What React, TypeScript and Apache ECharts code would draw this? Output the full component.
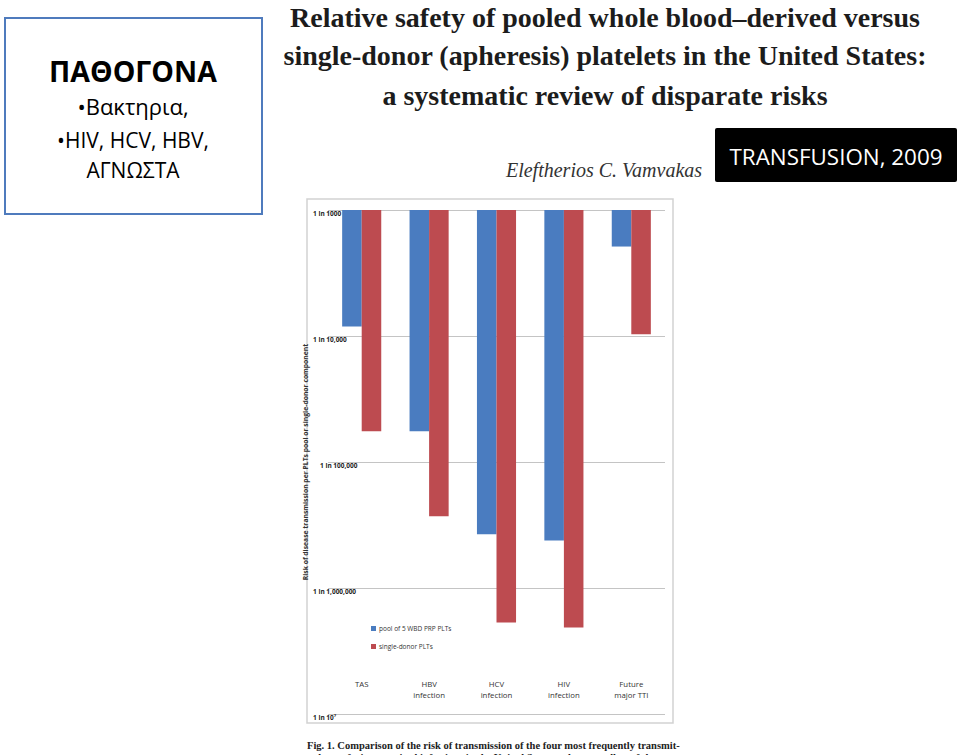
import React, { useEffect, useRef } from 'react';
import * as echarts from 'echarts';

const categories = ['TAS', 'HBV\ninfection', 'HCV\ninfection', 'HIV\ninfection', 'Future\nmajor TTI'];
const seriesNames = ['pool of 5 WBD PRP PLTs', 'single-donor PLTs'];
// risk expressed as "1 in N" (N values)
const pooledRisk = [8400, 57000, 375000, 420000, 1950];
const singleDonorRisk = [57000, 270000, 1880000, 2060000, 9700];
const yTickValues = [1000, 10000, 100000, 1000000, 10000000];
const yTickLabels = ['1 in 1000', '1 in 10,000', '1 in 100,000', '1 in 1,000,000', '1 in 10\u2077'];

const titleLines = [
  'Relative safety of pooled whole blood\u2013derived versus',
  'single-donor (apheresis) platelets in the United States:',
  'a systematic review of disparate risks',
];
const author = 'Eleftherios C. Vamvakas';
const journal = 'TRANSFUSION, 2009';
const boxHeading = '\u03a0\u0391\u0398\u039f\u0393\u039f\u039d\u0391';
const boxLines = ['\u2022\u0392\u03b1\u03ba\u03c4\u03b7\u03c1\u03b9\u03b1,', '\u2022HIV, HCV, HBV,', '\u0391\u0393\u039d\u03a9\u03a3\u03a4\u0391'];
const yAxisTitle = 'Risk of disease transmission per PLTs pool or single-donor component';
const captionLines = [
  'Fig. 1. Comparison of the risk of transmission of the four most frequently transmit-',
  'ted transfusion-acquired infections in the United States today, as well as of the next',
];

const BLUE = '#4a7cc0';
const RED = '#bd4b50';

export default function App() {
  const ref = useRef<HTMLDivElement>(null);
  useEffect(() => {
    if (!ref.current) return;
    const chart = echarts.init(ref.current, undefined, { renderer: 'svg' });
    const serif = '"Liberation Serif", "DejaVu Serif", serif';
    const sans = '"Open Sans", "Noto Sans", sans-serif';
    const option: any = {
      animation: false,
      backgroundColor: '#ffffff',
      grid: { left: 328, top: 210, width: 337, height: 504, containLabel: false },
      legend: {
        orient: 'vertical',
        left: 366,
        top: 620,
        itemWidth: 5,
        itemHeight: 5,
        itemGap: 11,
        icon: 'rect',
        data: seriesNames,
        textStyle: { fontSize: 6.5, color: '#333', fontFamily: sans, padding: [0, 0, 0, -2] },
      },
      xAxis: {
        type: 'category',
        data: categories,
        position: 'bottom',
        axisLine: { show: false },
        axisTick: { show: false },
        axisLabel: {
          margin: -36,
          fontSize: 7.8,
          color: '#333',
          fontFamily: sans,
          lineHeight: 11,
          verticalAlign: 'top',
          interval: 0,
        },
      },
      yAxis: {
        type: 'log',
        logBase: 10,
        min: 1000,
        max: 10000000,
        inverse: true,
        name: yAxisTitle,
        nameLocation: 'middle',
        nameGap: 13,
        nameTextStyle: { fontSize: 6.8, color: '#333', fontFamily: sans, fontWeight: 'bold' },
        axisLine: { show: false },
        axisTick: { show: false },
        splitLine: { show: true, lineStyle: { color: '#c4c4c4', width: 1.2 } },
        axisLabel: {
          margin: 15,
          align: 'left',
          verticalAlign: 'top',
          fontSize: 6.5,
          color: '#222',
          fontFamily: sans,
          fontWeight: 'bold',
          formatter: (v: number) => {
            const i = yTickValues.findIndex((t) => Math.abs(Math.log10(t) - Math.log10(v)) < 0.01);
            if (i < 0) return '';
            return i === 2 ? '{p|' + yTickLabels[i] + '}' : yTickLabels[i];
          },
          rich: { p: { padding: [0, 0, 0, 7], fontSize: 6.5, fontWeight: 'bold', color: '#222', fontFamily: sans } },
        },
      },
      series: [
        {
          name: seriesNames[0],
          type: 'bar',
          data: pooledRisk,
          itemStyle: { color: BLUE },
          barGap: '0%',
          barCategoryGap: '42%',
          clip: true,
        },
        {
          name: seriesNames[1],
          type: 'bar',
          data: singleDonorRisk,
          itemStyle: { color: RED },
          barGap: '0%',
          barCategoryGap: '42%',
          clip: true,
        },
      ],
      graphic: [
        // left box
        {
          type: 'rect',
          shape: { x: 5, y: 18, width: 257, height: 196 },
          style: { fill: '#ffffff', stroke: '#4f7bbd', lineWidth: 2 },
        },
        {
          type: 'text',
          x: 133,
          y: 71,
          style: { text: boxHeading, font: 'bold 28.5px ' + sans, fill: '#000', align: 'center', verticalAlign: 'middle' },
        },
        ...boxLines.map((t, i) => ({
          type: 'text',
          x: 133,
          y: [106, 140, 170][i],
          style: { text: t, font: (i === 0 ? '22px ' : '21px ') + sans, fill: '#000', align: 'center', verticalAlign: 'middle' },
        })),
        // title
        ...titleLines.map((t, i) => ({
          type: 'text',
          x: 605,
          y: [17, 55, 95][i],
          style: { text: t, font: 'bold 28px ' + serif, fill: '#1c1c1c', align: 'center', verticalAlign: 'middle' },
        })),
        {
          type: 'text',
          x: 604,
          y: 170,
          style: { text: author, font: 'italic 20px ' + serif, fill: '#333', align: 'center', verticalAlign: 'middle' },
        },
        // journal box
        {
          type: 'rect',
          shape: { x: 715, y: 128, width: 242, height: 54, r: 2 },
          style: { fill: '#000000' },
        },
        {
          type: 'text',
          x: 836,
          y: 156,
          style: { text: journal, font: '22.4px ' + sans, fill: '#ffffff', align: 'center', verticalAlign: 'middle' },
        },
        // figure frame
        {
          type: 'rect',
          shape: { x: 307, y: 199, width: 366, height: 524 },
          style: { fill: 'none', stroke: '#d2d2d2', lineWidth: 1.5 },
          z: -1,
        },
        ...captionLines.map((t, i) => ({
          type: 'text',
          x: 307,
          y: [745, 757][i],
          style: { text: t, font: 'bold 10.5px ' + serif, fill: '#222', align: 'left', verticalAlign: 'middle' },
        })),
      ],
    };
    chart.setOption(option);
    return () => chart.dispose();
  }, []);
  return (
    <div
      ref={ref}
      style={{ position: 'fixed', left: 0, top: 0, width: 960, height: 755, background: '#fff' }}
    />
  );
}
